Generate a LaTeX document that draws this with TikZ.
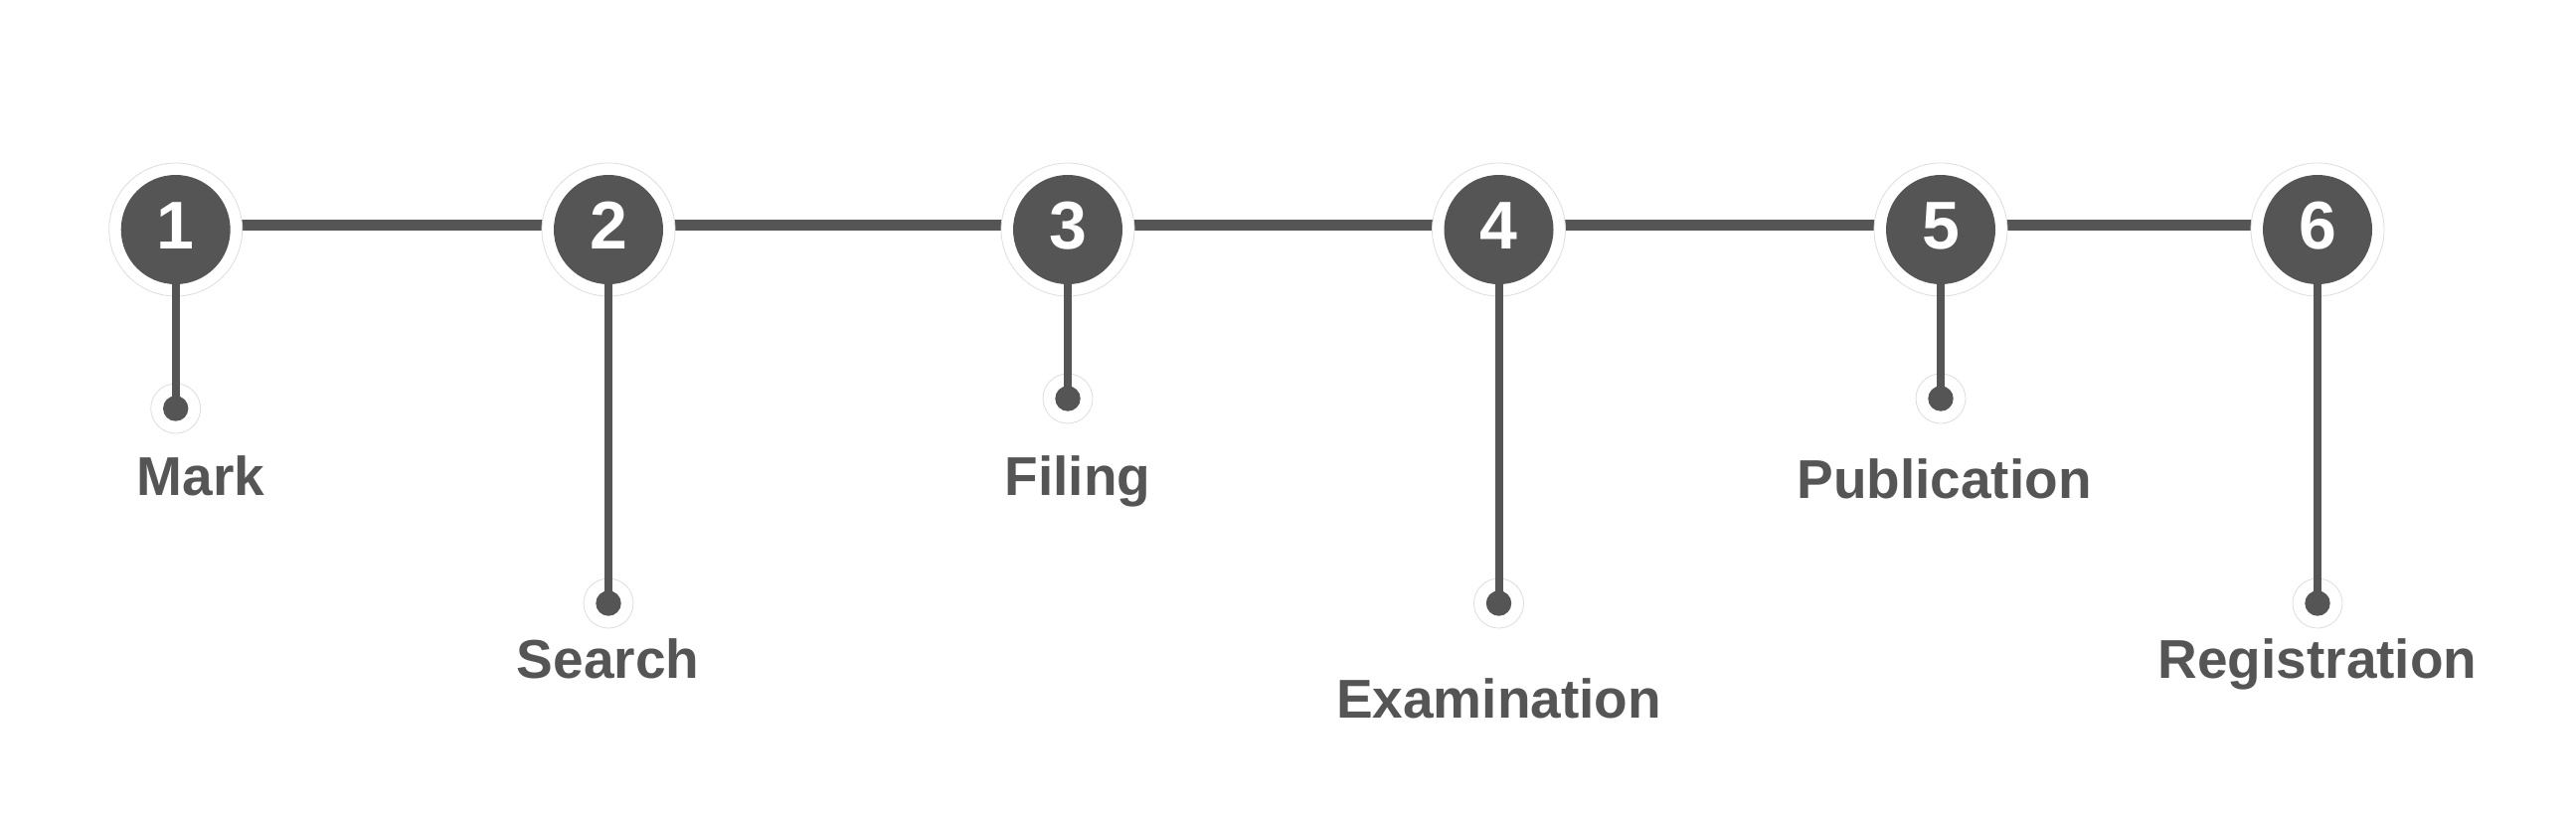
\documentclass[tikz,border=0pt]{standalone}
\usepackage{fontspec}
\setmainfont{Liberation Sans}
\definecolor{dk}{HTML}{555555}
\definecolor{ring}{HTML}{DDDDDD}
\begin{document}
\begin{tikzpicture}[x=1pt,y=-1pt,
  hline/.style={draw=dk,line width=11pt},
  stem/.style={draw=dk,line width=8pt},
  halo/.style={circle,fill=white,draw=ring,line width=0.8pt,minimum size=134pt,inner sep=0pt},
  bigc/.style={circle,fill=dk,minimum size=110pt,inner sep=0pt},
  dothalo/.style={circle,fill=white,draw=ring,line width=0.8pt,minimum size=50pt,inner sep=0pt},
  dotc/.style={circle,fill=dk,minimum size=25.4pt,inner sep=0pt},
  num/.style={anchor=base,inner sep=0pt,text=white,font=\fontsize{68}{68}\selectfont\bfseries},
  lbl/.style={anchor=base,inner sep=0pt,text=dk,font=\fontsize{55}{55}\selectfont\bfseries}]
\useasboundingbox (0,0) rectangle (2591,819);
% positions
\coordinate (p1) at (176.7,231);
\coordinate (p2) at (612,231);
\coordinate (p3) at (1074,231);
\coordinate (p4) at (1507.5,231);
\coordinate (p5) at (1952,231);
\coordinate (p6) at (2331,231);
\coordinate (q1) at (176.7,411);
\coordinate (q2) at (612,607);
\coordinate (q3) at (1074,401);
\coordinate (q4) at (1507.5,607);
\coordinate (q5) at (1952,401);
\coordinate (q6) at (2331,607);
% main line
\draw[hline] ([yshift=5pt]p1) -- ([yshift=5pt]p6);
% halos
\foreach \i in {1,...,6} {
  \node[halo] (h\i) at (p\i) {};
  \node[dothalo] (dh\i) at (q\i) {};
}
% stems
\foreach \i in {1,...,6} {
  \draw[stem] (p\i) -- (q\i);
}
% circles and dots
\foreach \i in {1,...,6} {
  \node[bigc] (c\i) at (p\i) {};
  \node[dotc] (d\i) at (q\i) {};
}
% numbers
\node[num] (n1) at (176.7,250.7) {1};
\node[num] (n2) at (612,250.7) {2};
\node[num] (n3) at (1074,250.7) {3};
\node[num] (n4) at (1507.5,250.7) {4};
\node[num] (n5) at (1952,250.7) {5};
\node[num] (n6) at (2331,250.7) {6};
% labels
\node[lbl] (l1) at (202,498) {Mark};
\node[lbl] (l2) at (611.5,682) {Search};
\node[lbl] (l3) at (1084,498) {Filing};
\node[lbl] (l4) at (1507.5,722) {Examination};
\node[lbl] (l5) at (1955.5,501) {Publication};
\node[lbl] (l6) at (2331,682.5) {Registration};
\end{tikzpicture}
\end{document}
